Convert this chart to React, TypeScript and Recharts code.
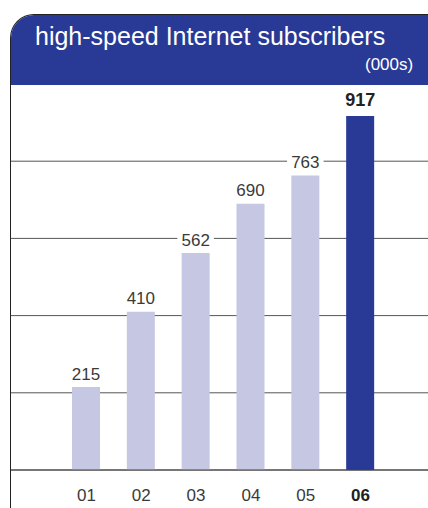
import React from 'react'
import { BarChart, Bar, XAxis, YAxis, CartesianGrid, Cell, LabelList } from 'recharts'

const years = ['01', '02', '03', '04', '05', '06']
const subscribers = [215, 410, 562, 690, 763, 917]
const gridTicks = [0, 200, 400, 600, 800]

const data = years.map((year, i) => ({ year, value: subscribers[i] }))

const FONT = '"Liberation Sans", Arial, Helvetica, sans-serif'
const NAVY = '#283a96'
const LAVENDER = '#c6c7e3'

function BarValue(props: any) {
  const { x, y, width, value, index } = props
  const last = index === data.length - 1
  const cx = x + width / 2
  const cy = y - (last ? 16 : 13)
  const w = String(value).length * (last ? 10.5 : 9.5) + 8
  return (
    <g>
      {!last && <rect x={cx - w / 2} y={cy - 9} width={w} height={18} fill="#fff" />}
      <text
        x={cx}
        y={cy}
        textAnchor="middle"
        dominantBaseline="central"
        fontFamily={FONT}
        fontSize={last ? 18 : 17}
        fontWeight={last ? 700 : 400}
        fill={last ? '#222' : '#3a3a3a'}
      >
        {value}
      </text>
    </g>
  )
}

function YearTick(props: any) {
  const { x, y, payload, index } = props
  const last = index === years.length - 1
  return (
    <text
      x={x}
      y={y + 23}
      textAnchor="middle"
      fontFamily={FONT}
      fontSize={17}
      fontWeight={last ? 700 : 400}
      fill={last ? '#222' : '#3a3a3a'}
    >
      {payload.value}
    </text>
  )
}

export default function App() {
  return (
    <div style={{ position: 'absolute', left: 0, top: 0, width: 428, height: 508, overflow: 'hidden', background: '#fff' }}>
      {/* frame with rounded corner */}
      <div
        style={{
          position: 'absolute',
          left: 10,
          top: 14,
          width: 440,
          height: 520,
          borderLeft: '1px solid #222',
          borderTop: '1px solid #222',
          borderTopLeftRadius: 24,
          overflow: 'hidden',
        }}
      >
        <div style={{ height: 70, background: NAVY, position: 'relative', fontFamily: FONT, color: '#fff' }}>
          <div style={{ position: 'absolute', left: 24, top: 7, fontSize: 25, whiteSpace: 'nowrap' }}>high-speed Internet subscribers</div>
          <div style={{ position: 'absolute', left: 354, top: 40, fontSize: 17, whiteSpace: 'nowrap' }}>(000s)</div>
        </div>
      </div>
      <div style={{ position: 'absolute', left: 0, top: 0 }}>
        <BarChart
          width={428}
          height={508}
          data={data}
          margin={{ top: 84, right: 0, bottom: 0, left: 11 }}
          barSize={28}
        >
          <CartesianGrid vertical={false} stroke="#555" strokeWidth={1} horizontalValues={gridTicks} />
          <XAxis
            dataKey="year"
            height={38}
            axisLine={{ stroke: '#444' }}
            tickLine={false}
            tick={<YearTick />}
            padding={{ left: 48, right: 40 }}
            interval={0}
          />
          <YAxis hide domain={[0, 1000]} ticks={gridTicks} />
          <Bar dataKey="value" isAnimationActive={false}>
            {data.map((d, i) => (
              <Cell key={d.year} fill={i === data.length - 1 ? NAVY : LAVENDER} />
            ))}
            <LabelList dataKey="value" content={<BarValue />} />
          </Bar>
        </BarChart>
      </div>
    </div>
  )
}
